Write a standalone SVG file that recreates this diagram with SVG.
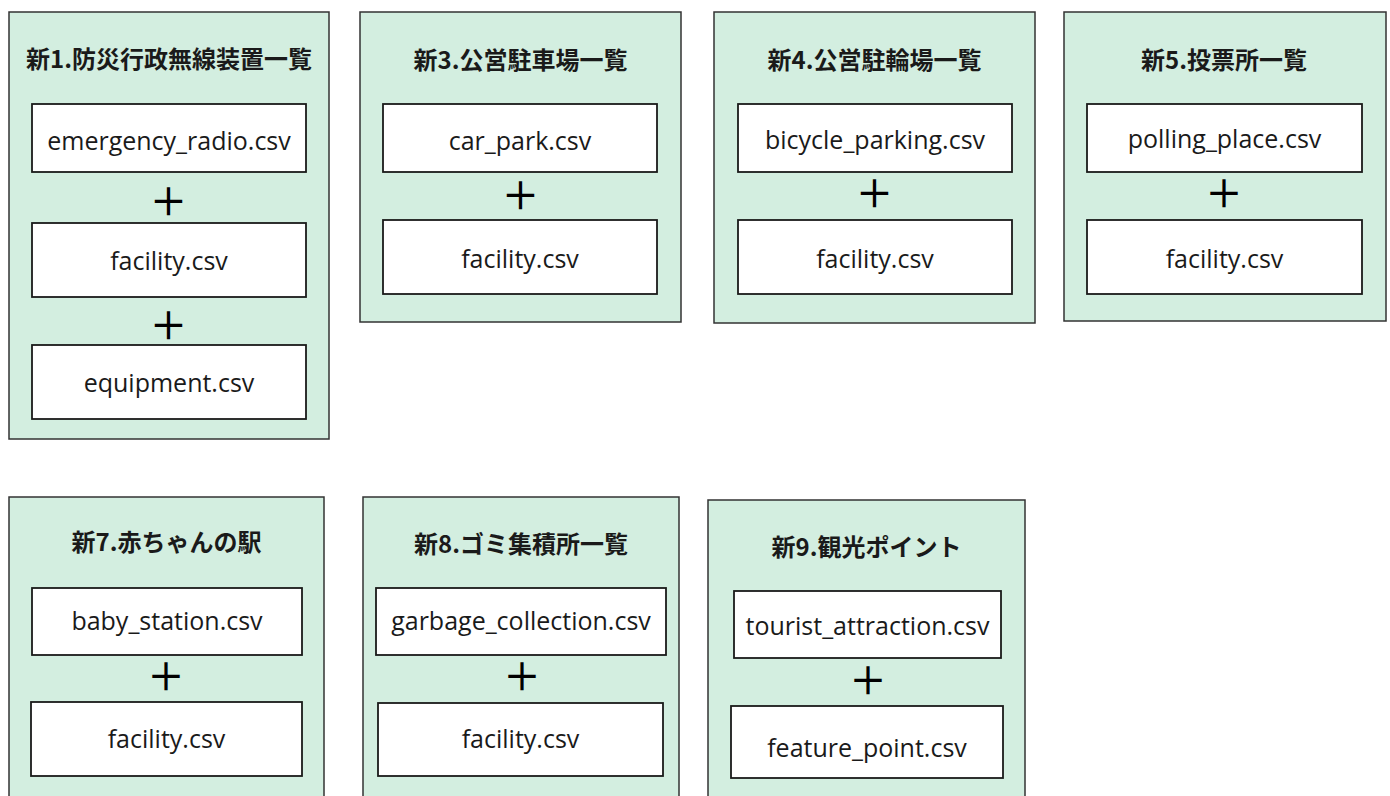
<svg xmlns="http://www.w3.org/2000/svg" width="1390" height="796" viewBox="0 0 1390 796">
<style>
.panel{fill:#d3eee0;stroke:#333;stroke-width:1.5}
.box{fill:#fff;stroke:#1a1a1a;stroke-width:1.8}
.title{font-family:"Noto Sans CJK JP",sans-serif;font-weight:bold;font-size:24px;fill:#1a1a1a;text-anchor:middle;dominant-baseline:central}
.lbl{font-family:"Open Sans","Noto Sans CJK JP",sans-serif;font-size:25px;fill:#1a1a1a;text-anchor:middle}
.plus{font-family:"Noto Sans CJK JP",sans-serif;font-size:38px;font-weight:500;fill:#000;text-anchor:middle;dominant-baseline:central}
</style>
<rect width="1390" height="796" fill="#fff"/>
<g id="connectors"></g>
<g id="p1">
<rect class="panel" x="9" y="12" width="320" height="427"/>
<text class="title" x="169" y="57">新1.防災行政無線装置一覧</text>
<rect class="box" x="32" y="104" width="274" height="68"/>
<text class="lbl" x="169" y="150">emergency_radio.csv</text>
<text class="plus" x="168.5" y="198">＋</text>
<rect class="box" x="32" y="223" width="274" height="74"/>
<text class="lbl" x="169" y="270">facility.csv</text>
<text class="plus" x="168.5" y="322">＋</text>
<rect class="box" x="32" y="345" width="274" height="74"/>
<text class="lbl" x="169" y="392">equipment.csv</text>
</g>
<g id="p3">
<rect class="panel" x="360" y="12" width="321" height="310"/>
<text class="title" x="520.5" y="58">新3.公営駐車場一覧</text>
<rect class="box" x="383" y="104" width="274" height="68"/>
<text class="lbl" x="520" y="150">car_park.csv</text>
<text class="plus" x="520.5" y="192">＋</text>
<rect class="box" x="383" y="220" width="274" height="74"/>
<text class="lbl" x="520" y="268">facility.csv</text>
</g>
<g id="p4">
<rect class="panel" x="714" y="12" width="321" height="311"/>
<text class="title" x="874.5" y="58">新4.公営駐輪場一覧</text>
<rect class="box" x="738" y="104" width="274" height="68"/>
<text class="lbl" x="875" y="149">bicycle_parking.csv</text>
<text class="plus" x="874.5" y="190">＋</text>
<rect class="box" x="738" y="220" width="274" height="74"/>
<text class="lbl" x="875" y="268">facility.csv</text>
</g>
<g id="p5">
<rect class="panel" x="1064" y="12" width="322" height="309"/>
<text class="title" x="1224" y="58">新5.投票所一覧</text>
<rect class="box" x="1087" y="104" width="275" height="68"/>
<text class="lbl" x="1224.5" y="148">polling_place.csv</text>
<text class="plus" x="1224" y="190">＋</text>
<rect class="box" x="1087" y="220" width="275" height="74"/>
<text class="lbl" x="1224.5" y="268">facility.csv</text>
</g>
<g id="p7">
<rect class="panel" x="9" y="497" width="315" height="310"/>
<text class="title" x="166.5" y="540">新7.赤ちゃんの駅</text>
<rect class="box" x="32" y="588" width="270" height="67"/>
<text class="lbl" x="167" y="630">baby_station.csv</text>
<text class="plus" x="166" y="673">＋</text>
<rect class="box" x="31" y="702" width="271" height="74"/>
<text class="lbl" x="166.5" y="748">facility.csv</text>
</g>
<g id="p8">
<rect class="panel" x="363" y="497" width="316" height="310"/>
<text class="title" x="521" y="542">新8.ゴミ集積所一覧</text>
<rect class="box" x="376" y="588" width="290" height="67"/>
<text class="lbl" x="521" y="630">garbage_collection.csv</text>
<text class="plus" x="522" y="673">＋</text>
<rect class="box" x="378" y="703" width="285" height="73"/>
<text class="lbl" x="520.5" y="748">facility.csv</text>
</g>
<g id="p9">
<rect class="panel" x="708" y="500" width="317" height="310"/>
<text class="title" x="866.5" y="545">新9.観光ポイント</text>
<rect class="box" x="734" y="591" width="267" height="67"/>
<text class="lbl" x="867.5" y="635">tourist_attraction.csv</text>
<text class="plus" x="868" y="677">＋</text>
<rect class="box" x="731" y="706" width="272" height="72"/>
<text class="lbl" x="867" y="757">feature_point.csv</text>
</g>
</svg>
